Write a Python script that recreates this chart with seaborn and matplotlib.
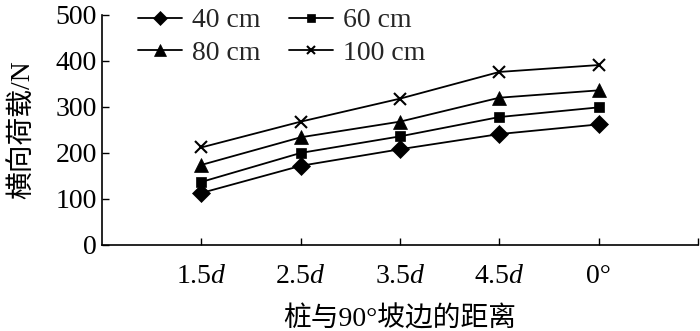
import matplotlib
matplotlib.use("Agg")
import matplotlib.pyplot as plt
import numpy as np
import pandas as pd
import seaborn as sns

# values
categories = ["1.5d", "2.5d", "3.5d", "4.5d", "0°"]
tick_labels = ["1.5$\\it{d}$", "2.5$\\it{d}$", "3.5$\\it{d}$", "4.5$\\it{d}$", "0°"]
series_names = ["40 cm", "60 cm", "80 cm", "100 cm"]
load_40 = [113, 172, 208, 241, 262]
load_60 = [137, 200, 236, 278, 299]
load_80 = [174, 234, 268, 320, 336]
load_100 = [212, 268, 318, 376, 391]

sns.set_theme(style="ticks")
plt.rcParams["font.family"] = ["Liberation Serif", "Noto Sans CJK SC"]
plt.rcParams["mathtext.fontset"] = "custom"
plt.rcParams["mathtext.rm"] = "Liberation Serif"
plt.rcParams["mathtext.it"] = "Liberation Serif:italic"

FS = 20

rows = []
for name, vals in zip(series_names, [load_40, load_60, load_80, load_100]):
    for i, v in enumerate(vals):
        rows.append({"pos": i, "load": v, "series": name})
df = pd.DataFrame(rows)

markers = {"40 cm": "D", "60 cm": "s", "80 cm": "^", "100 cm": "x"}
sizes = {"40 cm": 9, "60 cm": 7.5, "80 cm": 10, "100 cm": 8}

fig = plt.figure(figsize=(7, 3.31), dpi=100)
ax = fig.add_axes([0.146, 0.26, 0.851, 0.695])

for name in series_names:
    sub = df[df["series"] == name]
    sns.lineplot(data=sub, x="pos", y="load", ax=ax, color="black", lw=1.3,
                 marker=markers[name], markersize=sizes[name],
                 markeredgewidth=1.5 if name == "100 cm" else 0.5,
                 markeredgecolor="black", markerfacecolor="black", label=name)

h, l = ax.get_legend_handles_labels()
hm = dict(zip(l, h))
order = ["40 cm", "80 cm", "60 cm", "100 cm"]
ax.legend([hm[k] for k in order], order, ncol=2, frameon=False, fontsize=FS,
          loc="upper left", bbox_to_anchor=(0.06, 1.03), handlelength=1.6,
          handletextpad=0.36, columnspacing=1.0, labelspacing=0.25,
          borderaxespad=0, borderpad=0, markerscale=0.8)

ax.set_xlim(-1, 5)
ax.set_ylim(0, 500)
ax.set_xticks(range(6))
ax.set_xticklabels(tick_labels + [""])
ax.set_yticks(range(0, 501, 100))
ax.tick_params(axis="both", direction="in", length=5, width=1, labelsize=FS,
               color="black", labelcolor="black")
ax.tick_params(axis="x", pad=14)
ax.tick_params(axis="y", pad=4)
for s in ["top", "right"]:
    ax.spines[s].set_visible(False)
for s in ["left", "bottom"]:
    ax.spines[s].set_color("black")
    ax.spines[s].set_linewidth(1.2)

ax.set_xlabel("桩与90°坡边的距离", fontsize=FS, color="black", labelpad=12)
ax.set_ylabel("横向荷载/N", fontsize=FS, color="black", labelpad=14)

fig.savefig("out.png", dpi=100)
